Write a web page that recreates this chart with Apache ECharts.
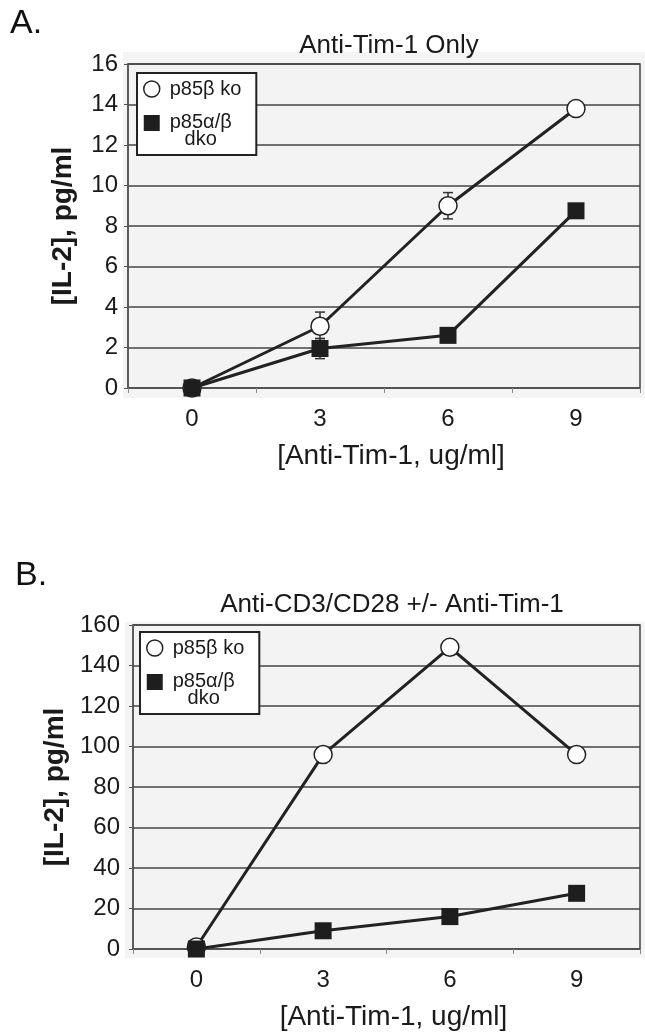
<!DOCTYPE html>
<html><head><meta charset="utf-8">
<script src="https://cdn.jsdelivr.net/npm/echarts@6/dist/echarts.min.js"></script>
<style>html,body{margin:0;padding:0;background:#fff}#c{width:645px;height:1032px}</style>
</head><body><div id="c"></div>
<script>
const categories = ['0', '3', '6', '9'];
const seriesNames = ['p85β ko', 'p85α/β dko'];
const koA = [0, 3.05, 9.0, 13.8];
const koErrA = [0, 0.7, 0.65, 0];
const dkoA = [0, 1.95, 2.6, 8.75];
const dkoErrA = [0, 0.5, 0, 0];
const koB = [1, 96, 149, 96];
const dkoB = [0, 9, 16, 27.5];
const titleA = 'Anti-Tim-1 Only';
const titleB = 'Anti-CD3/CD28 +/- Anti-Tim-1';
const xName = '[Anti-Tim-1, ug/ml]';
const yName = '[IL-2], pg/ml';

const FONT = '"Liberation Sans", Arial, Helvetica, sans-serif';
const chart = echarts.init(document.getElementById('c'), null, {renderer: 'canvas'});

function errItem(params, api) {
  const i = api.value(0), v = api.value(1), e = api.value(2);
  const top = api.coord([i, v + e]);
  const bot = api.coord([i, v - e]);
  const hw = 5;
  const style = {stroke: '#333', lineWidth: 1.5};
  return {type: 'group', children: [
    {type: 'line', shape: {x1: top[0], y1: top[1], x2: bot[0], y2: bot[1]}, style: style},
    {type: 'line', shape: {x1: top[0] - hw, y1: top[1], x2: top[0] + hw, y2: top[1]}, style: style},
    {type: 'line', shape: {x1: bot[0] - hw, y1: bot[1], x2: bot[0] + hw, y2: bot[1]}, style: style}
  ]};
}
function errData(vals, errs) {
  return categories.map((c, i) => [i, vals[i], errs[i]]).filter(d => d[2] > 0);
}

function legendCfg(left, top) {
  return {
    orient: 'vertical', left: left, top: top,
    padding: [6, 15, 6, 6], itemGap: 0,
    itemWidth: 16, itemHeight: 16,
    backgroundColor: '#fff', borderColor: '#222', borderWidth: 2,
    selectedMode: false,
    formatter: function (n) { return n === seriesNames[0] ? n : '{z| }\n{a|p85α/β}\n{b|dko}'; },
    textStyle: {
      fontFamily: FONT, fontSize: 20, lineHeight: 20, color: '#1a1a1a', padding: [0, 0, 0, 5],
      rich: {
        z: {fontSize: 10, lineHeight: 14},
        a: {fontFamily: FONT, fontSize: 20, lineHeight: 18, color: '#1a1a1a'},
        b: {fontFamily: FONT, fontSize: 20, lineHeight: 16, color: '#1a1a1a', align: 'center'}
      }
    },
    data: [
      {name: seriesNames[0], icon: 'circle', itemStyle: {color: '#fff', borderColor: '#222', borderWidth: 1.5}},
      {name: seriesNames[1], icon: 'rect', itemStyle: {color: '#1e1e1e', borderWidth: 0}}
    ]
  };
}

function xAxisCfg(gi) {
  return {
    type: 'category', gridIndex: gi, data: categories, boundaryGap: true,
    axisLine: {lineStyle: {color: '#555', width: 1.5}},
    axisTick: {show: true, length: 5, lineStyle: {color: '#888'}},
    axisLabel: {fontFamily: FONT, fontSize: 24, color: '#1a1a1a', margin: 19},
    name: xName, nameLocation: 'middle', nameGap: 54,
    nameTextStyle: {fontFamily: FONT, fontSize: 28, color: '#1a1a1a', padding: [0, 0, 0, 14]}
  };
}
function yAxisCfg(gi, max, interval, margin, nameGap) {
  return {
    type: 'value', gridIndex: gi, min: 0, max: max, interval: interval,
    axisLine: {show: true, lineStyle: {color: '#555', width: 1.5}},
    axisTick: {show: true, length: 4, lineStyle: {color: '#555'}},
    axisLabel: {fontFamily: FONT, fontSize: 24, color: '#1a1a1a', margin: margin},
    splitLine: {show: true, lineStyle: {color: '#444', width: 1.5}},
    name: yName, nameLocation: 'middle', nameGap: nameGap, nameRotate: 90,
    nameTextStyle: {fontFamily: FONT, fontSize: 28, fontWeight: 'bold', color: '#1a1a1a'}
  };
}
function lineSeries(name, data, xi, sym) {
  const isKo = sym === 'circle';
  return {
    type: 'line', name: name, xAxisIndex: xi, yAxisIndex: xi, data: data,
    symbol: sym, symbolSize: isKo ? 18 : 17, z: isKo ? 3 : 4,
    lineStyle: {color: '#222', width: 3},
    itemStyle: isKo ? {color: '#fff', borderColor: '#222', borderWidth: 1.5} : {color: '#1e1e1e', borderWidth: 0}
  };
}
function errSeries(name, data, xi) {
  return {type: 'custom', name: name + ' err', xAxisIndex: xi, yAxisIndex: xi, data: data, renderItem: errItem, z: 2};
}

chart.setOption({
  animation: false,
  backgroundColor: '#fff',
  graphic: [
    {type: 'rect', shape: {x: 123, y: 52, width: 522, height: 346}, style: {fill: '#f4f4f4'}, z: -10},
    {type: 'rect', shape: {x: 125, y: 622, width: 520, height: 336}, style: {fill: '#f4f4f4'}, z: -10}
  ],
  title: [
    {text: 'A.', left: 5, top: 2, textStyle: {fontFamily: FONT, fontSize: 34, fontWeight: 'normal', color: '#111'}},
    {text: titleA, left: 384, top: 28, textAlign: 'center', textStyle: {fontFamily: FONT, fontSize: 26, fontWeight: 'normal', color: '#1a1a1a'}},
    {text: 'B.', left: 10, top: 554, textStyle: {fontFamily: FONT, fontSize: 34, fontWeight: 'normal', color: '#111'}},
    {text: titleB, left: 387, top: 587, textAlign: 'center', textStyle: {fontFamily: FONT, fontSize: 26, fontWeight: 'normal', color: '#1a1a1a'}}
  ],
  legend: [legendCfg(137, 73), legendCfg(140, 632)],
  grid: [
    {left: 128, right: 5, top: 64, height: 324, show: true, backgroundColor: '#f3f3f3', borderColor: '#444', borderWidth: 1.5},
    {left: 133, right: 5, top: 625, height: 324, show: true, backgroundColor: '#f3f3f3', borderColor: '#444', borderWidth: 1.5}
  ],
  xAxis: [xAxisCfg(0), xAxisCfg(1)],
  yAxis: [yAxisCfg(0, 16, 2, 10, 51), yAxisCfg(1, 160, 20, 13, 59)],
  series: [
    errSeries(seriesNames[0], errData(koA, koErrA), 0),
    errSeries(seriesNames[1], errData(dkoA, dkoErrA), 0),
    lineSeries(seriesNames[0], koA, 0, 'circle'),
    lineSeries(seriesNames[1], dkoA, 0, 'rect'),
    lineSeries(seriesNames[0], koB, 1, 'circle'),
    lineSeries(seriesNames[1], dkoB, 1, 'rect')
  ]
});
</script></body></html>
